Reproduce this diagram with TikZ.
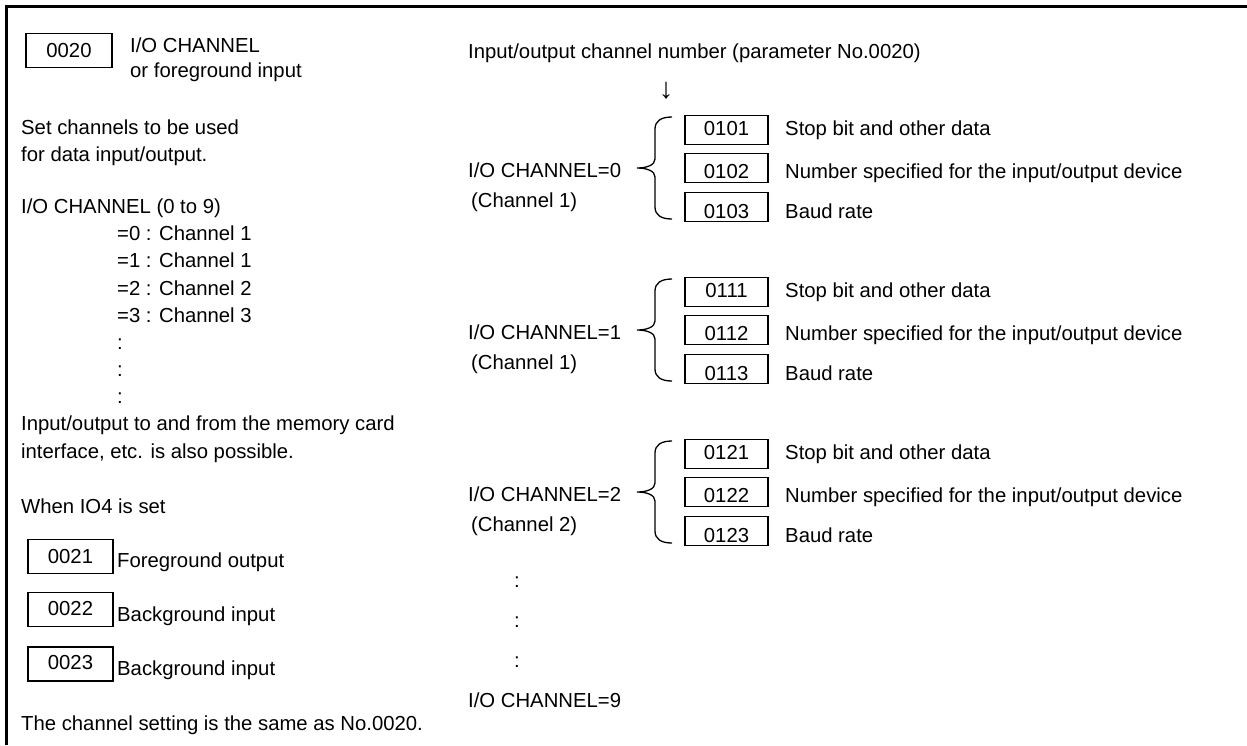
\documentclass[tikz,border=0pt]{standalone}
\usepackage{fontspec}
\setmainfont{Liberation Sans}
\begin{document}
\begin{tikzpicture}[x=1pt,y=-1pt,font=\fontsize{20.3}{24}\selectfont,
  txt/.style={anchor=base west,inner sep=0pt},
  ctxt/.style={anchor=base,inner sep=0pt},
  reg/.style={draw,line width=1.3pt,minimum width=83pt,minimum height=29pt,inner sep=0pt,text depth=0pt},
  lreg/.style={reg,minimum width=85pt,minimum height=34pt},
  bl/.style={text height=#1},
  frame/.style={line width=2.6pt},
  brace/.pic={\draw[line width=1.3pt]
    (17,-51) .. controls (6,-51) and (0,-47) .. (0,-39) -- (0,-9)
    .. controls (0,-3) and (-8,0) .. (-18,0)
    .. controls (-8,0) and (0,3) .. (0,9) -- (0,39)
    .. controls (0,47) and (6,51) .. (17,51);}]
\useasboundingbox (0,0) rectangle (1247,745);
% frame (only top and left edges visible)
\coordinate (fbl) at (6.5,745);
\coordinate (ftl) at (6.5,6.5);
\coordinate (ftr) at (1247,6.5);
\draw[frame] (fbl) -- (ftl) -- (ftr);

% ---------- left column ----------
\node[lreg,minimum width=86pt,bl=14pt] (p0020) at (69,50.5) {0020};
\node[txt] (t1) at (130,52) {I/O CHANNEL};
\node[txt] (t2) at (130,77) {or foreground input};
\node[txt] (t3) at (21,134) {Set channels to be used};
\node[txt] (t4) at (21,161) {for data input/output.};
\node[txt] (t5) at (21,213) {I/O CHANNEL (0 to 9)};
\node[txt] (t6) at (117,240) {=0 : Channel 1};
\node[txt] (t7) at (117,267) {=1 : Channel 1};
\node[txt] (t8) at (117,295) {=2 : Channel 2};
\node[txt] (t9) at (117,322) {=3 : Channel 3};
\node[txt] (c1) at (117,349) {:};
\node[txt] (c2) at (117,376) {:};
\node[txt] (c3) at (117,403) {:};
\node[txt] (t10) at (21,430) {Input/output to and from the memory card};
\node[txt] (t11) at (21,458) {interface, etc. is also possible.};
\node[txt] (t12) at (21,513) {When IO4 is set};
\node[lreg,bl=13pt] (p0021) at (70.5,556.5) {0021};
\node[txt] (t13) at (117,567) {Foreground output};
\node[lreg,bl=11pt] (p0022) at (70.5,609.5) {0022};
\node[txt] (t14) at (117,621) {Background input};
\node[lreg,bl=10pt] (p0023) at (70.5,664) {0023};
\node[txt] (t15) at (117,675) {Background input};
\node[txt] (t16) at (21,730) {The channel setting is the same as No.0020.};

% ---------- right column ----------
\node[txt] (r0) at (468,58) {Input/output channel number (parameter No.0020)};
\node[ctxt,font=\fontsize{29}{29}\selectfont] (arr) at (666,98) {↓};
\foreach \t/\a/\b/\c/\ch/\cn in {116/0101/0102/0103/0/1, 278/0111/0112/0113/1/1, 440/0121/0122/0123/2/2}{
  \node[reg,bl=11pt] (p\a) at (726.5,\t+14) {\a};
  \node[reg,bl=20pt] (p\b) at (726.5,\t+52) {\b};
  \node[reg,bl=23pt] (p\c) at (726.5,\t+91) {\c};
  \node[txt] (s\a) at (785,\t+19) {Stop bit and other data};
  \node[txt] (s\b) at (785,\t+62) {Number specified for the input/output device};
  \node[txt] (s\c) at (785,\t+102) {Baud rate};
  \node[txt] (ch\a) at (468,\t+61) {I/O CHANNEL=\ch};
  \node[txt] (cn\a) at (471,\t+91) {(Channel \cn)};
  \pic at (655,\t+52) {brace};
}
\node[ctxt] (d1) at (517,587) {:};
\node[ctxt] (d2) at (517,627) {:};
\node[ctxt] (d3) at (517,667) {:};
\node[txt] (ch9) at (468,707) {I/O CHANNEL=9};
\end{tikzpicture}
\end{document}
